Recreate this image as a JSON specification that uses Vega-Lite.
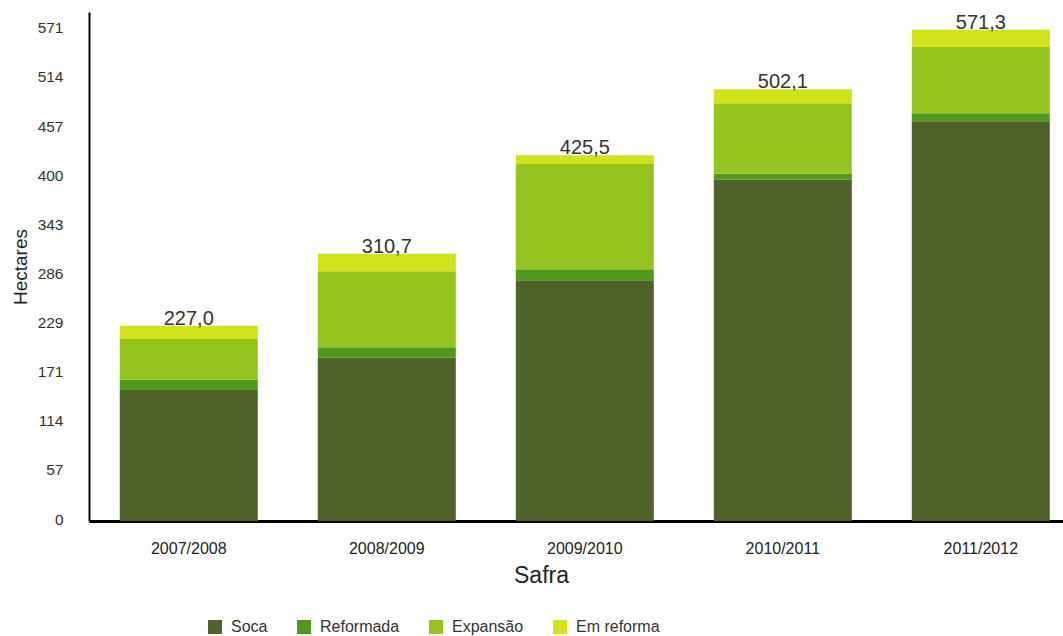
{
  "$schema": "https://vega.github.io/schema/vega-lite/v6.json",
  "width": 974,
  "height": 509,
  "autosize": "none",
  "padding": {"left": 89, "top": 12, "right": 0, "bottom": 115},
  "background": "white",
  "config": {"view": {"stroke": null}, "font": "Liberation Sans"},
  "datasets": {
    "camadas": [
      {"safra": "2007/2008", "serie": "Soca", "ordem": 1, "hectares": 152.5},
      {"safra": "2007/2008", "serie": "Reformada", "ordem": 2, "hectares": 11.7},
      {"safra": "2007/2008", "serie": "Expansão", "ordem": 3, "hectares": 47.6},
      {"safra": "2007/2008", "serie": "Em reforma", "ordem": 4, "hectares": 15.2},
      {"safra": "2008/2009", "serie": "Soca", "ordem": 1, "hectares": 190.0},
      {"safra": "2008/2009", "serie": "Reformada", "ordem": 2, "hectares": 12.0},
      {"safra": "2008/2009", "serie": "Expansão", "ordem": 3, "hectares": 88.5},
      {"safra": "2008/2009", "serie": "Em reforma", "ordem": 4, "hectares": 20.2},
      {"safra": "2009/2010", "serie": "Soca", "ordem": 1, "hectares": 280.0},
      {"safra": "2009/2010", "serie": "Reformada", "ordem": 2, "hectares": 12.8},
      {"safra": "2009/2010", "serie": "Expansão", "ordem": 3, "hectares": 122.3},
      {"safra": "2009/2010", "serie": "Em reforma", "ordem": 4, "hectares": 10.4},
      {"safra": "2010/2011", "serie": "Soca", "ordem": 1, "hectares": 397.0},
      {"safra": "2010/2011", "serie": "Reformada", "ordem": 2, "hectares": 7.0},
      {"safra": "2010/2011", "serie": "Expansão", "ordem": 3, "hectares": 82.0},
      {"safra": "2010/2011", "serie": "Em reforma", "ordem": 4, "hectares": 16.1},
      {"safra": "2011/2012", "serie": "Soca", "ordem": 1, "hectares": 465.0},
      {"safra": "2011/2012", "serie": "Reformada", "ordem": 2, "hectares": 9.3},
      {"safra": "2011/2012", "serie": "Expansão", "ordem": 3, "hectares": 77.0},
      {"safra": "2011/2012", "serie": "Em reforma", "ordem": 4, "hectares": 20.0}
    ],
    "totais": [
      {"safra": "2007/2008", "total": 227.0, "rotulo": "227,0"},
      {"safra": "2008/2009", "total": 310.7, "rotulo": "310,7"},
      {"safra": "2009/2010", "total": 425.5, "rotulo": "425,5"},
      {"safra": "2010/2011", "total": 502.1, "rotulo": "502,1"},
      {"safra": "2011/2012", "total": 571.3, "rotulo": "571,3"}
    ]
  },
  "layer": [
    {
      "data": {"name": "camadas"},
      "mark": {"type": "bar"},
      "encoding": {
        "x": {
          "field": "safra", "type": "nominal", "sort": null,
          "scale": {"paddingInner": 0.303, "paddingOuter": 0.111, "align": 0.7},
          "axis": {
            "labelAngle": 0, "ticks": false, "grid": false,
            "domainColor": "#000000", "domainWidth": 3,
            "labelFontSize": 16, "labelColor": "#222222", "labelPadding": 19,
            "title": "Safra", "titleFontSize": 23, "titleFontWeight": "normal",
            "titleColor": "#222222", "titlePadding": 8, "titleX": 452
          }
        },
        "y": {
          "field": "hectares", "type": "quantitative", "stack": "zero",
          "scale": {"domain": [0, 592], "nice": false},
          "axis": {
            "values": [0, 57.13, 114.26, 171.39, 228.52, 285.65, 342.78, 399.91, 457.04, 514.17, 571.3],
            "format": ".0f", "ticks": false, "grid": false,
            "domainColor": "#000000", "domainWidth": 2,
            "labelFontSize": 15.5, "labelColor": "#333333", "labelPadding": 26,
            "labelOffset": -2,
            "title": "Hectares", "titleFontSize": 19, "titleFontWeight": "normal",
            "titleColor": "#222222", "titlePadding": 7
          }
        },
        "color": {
          "field": "serie", "type": "nominal",
          "scale": {
            "domain": ["Soca", "Reformada", "Expansão", "Em reforma"],
            "range": ["#4e6229", "#4f9a1d", "#96c41f", "#d2e21a"]
          },
          "legend": {
            "orient": "none", "legendX": 118, "legendY": 607,
            "direction": "horizontal", "title": null,
            "symbolType": "square", "symbolSize": 196, "symbolStrokeWidth": 0,
            "symbolOpacity": 1,
            "labelFontSize": 16, "labelColor": "#333333", "labelOffset": 8,
            "columnPadding": 28
          }
        },
        "order": {"field": "ordem", "type": "quantitative"}
      }
    },
    {
      "data": {"name": "totais"},
      "mark": {"type": "text", "baseline": "alphabetic", "dy": -1, "fontSize": 20, "color": "#333333"},
      "encoding": {
        "x": {"field": "safra", "type": "nominal", "sort": null},
        "y": {"field": "total", "type": "quantitative"},
        "text": {"field": "rotulo"}
      }
    }
  ]
}
